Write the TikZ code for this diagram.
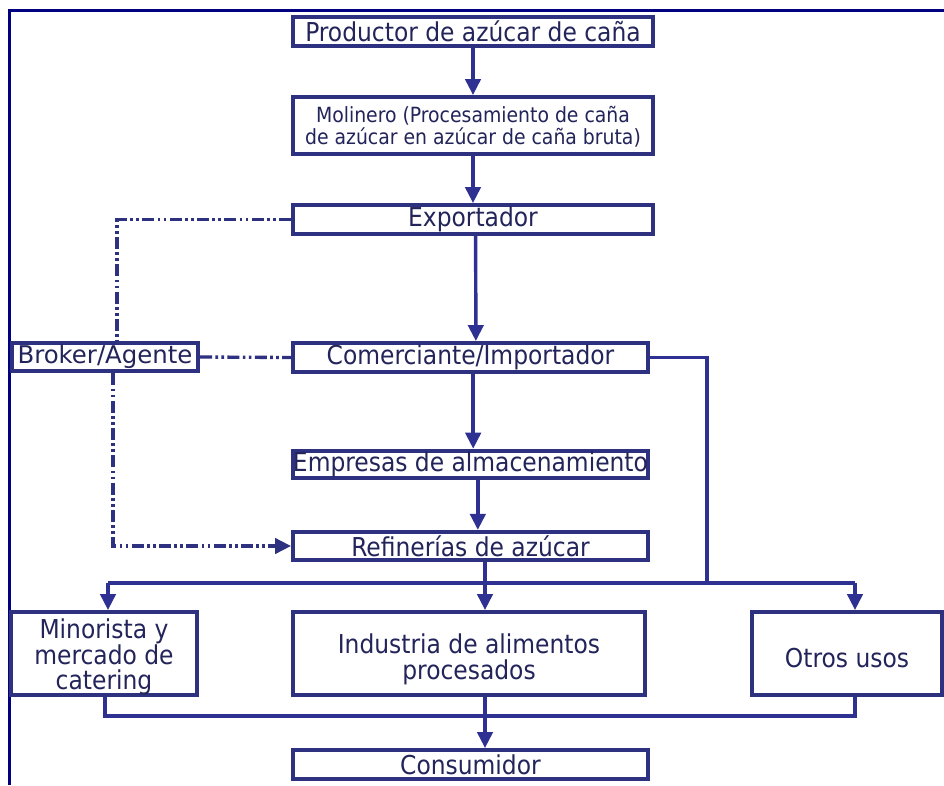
\documentclass[tikz,border=0pt]{standalone}
\usepackage{fontspec}
\setmainfont{DejaVu Sans Condensed}
\newfontfamily\widefont{DejaVu Sans}
\usetikzlibrary{arrows.meta}
\definecolor{framec}{HTML}{000080}
\definecolor{boxc}{HTML}{2E3080}
\definecolor{linec}{HTML}{2E3192}
\definecolor{txtc}{HTML}{22245A}
\tikzset{
  stagebox/.style={draw=boxc, line width=3.2pt, text=txtc, inner sep=0pt, align=center,
    font=\fontsize{19.5}{18.5}\selectfont},
  conn/.style={draw=linec, line width=2.6pt},
  arr/.style={conn, -{Triangle[length=12pt,width=11.5pt]}},
  dd/.style={draw=boxc, line width=2.5pt,
    dash pattern=on 9pt off 2.5pt on 2pt off 2.5pt on 2pt off 2.5pt},
}
\begin{document}
\begin{tikzpicture}[x=0.75pt,y=-0.75pt]
\useasboundingbox (0,0) rectangle (944,785);
\fill[white] (0,0) rectangle (944,785);
\draw[framec, line width=2.5pt] (9.5,785) -- (9.5,10.5) -- (944,10.5);

% nodes
\node[stagebox, minimum width=270pt, minimum height=21.5pt] (prod) at (473,31.5) {Productor de azúcar de caña};
\node[stagebox, minimum width=270pt, minimum height=42.5pt, font=\fontsize{15.7}{16.5}\selectfont] (mol) at (473,125.5) {\rule{0pt}{14pt}Molinero (Procesamiento de caña\\de azúcar en azúcar de caña bruta)};
\node[stagebox, minimum width=270pt, minimum height=21.5pt] (exp) at (473,219.5) {Exportador};
\node[stagebox, minimum width=266pt, minimum height=21.5pt] (com) at (470.5,357.5) {Comerciante/Importador};
\node[stagebox, minimum width=139.5pt, minimum height=21.5pt, font=\widefont\fontsize{18.3}{18}\selectfont] (broker) at (105,357) {Broker/Agente};
\node[stagebox, minimum width=266pt, minimum height=20.5pt] (emp) at (470.5,464.5) {Empresas de almacenamiento};
\node[stagebox, minimum width=266pt, minimum height=21pt] (ref) at (470.5,546) {Refinerías de azúcar};
\node[stagebox, minimum width=139.5pt, minimum height=62pt] (mino) at (104,653.5) {\rule{0pt}{19.5pt}Minorista y\\mercado de\\catering};
\node[stagebox, minimum width=264pt, minimum height=62pt, font=\fontsize{19.5}{19}\selectfont] (ind) at (469,653.5) {\rule{0pt}{23.5pt}Industria de alimentos\\procesados};
\node[stagebox, minimum width=143pt, minimum height=62pt] (otros) at (847,653.5) {\rule{0pt}{21pt}Otros usos};
\node[stagebox, minimum width=266pt, minimum height=21.5pt] (cons) at (470.5,764.5) {Consumidor};

% helper coordinates
\coordinate (sL) at (108,583);
\coordinate (sM) at (485,583);
\coordinate (sR) at (855,583);
\coordinate (cR) at (707,583);
\coordinate (bL) at (105,716);
\coordinate (bM) at (485,716);
\coordinate (bR) at (855,716);
\coordinate (dA) at (117,220);
\coordinate (dB) at (113,546);

% main chain
\draw[arr] (prod.south) -- (mol.north);
\draw[arr] (mol.south) -- (exp.north);
\draw[arr] ([xshift=2pt]exp.south) -- ([xshift=4pt]com.north);
\draw[arr] ([xshift=2pt]com.south) -- ([xshift=2pt]emp.north);
\draw[arr] ([xshift=5.5pt]emp.south) -- ([xshift=5.5pt]ref.north);

% distribution
\draw[conn] (ref.south -| sM) -- (sM);
\draw[conn] (com.east) -| (cR);
\draw[conn] (sL) -- (sR);
\draw[arr] (sL) -- (sL |- mino.north);
\draw[arr] (sM) -- (sM |- ind.north);
\draw[arr] (sR) -- (sR |- otros.north);

% to consumer
\draw[conn] (mino.south -| bL) -- (bL) -- (bR) -- (otros.south -| bR);
\draw[conn] (ind.south -| bM) -- (bM);
\draw[arr] (bM) -- (bM |- cons.north);

% broker dash-dot links
\draw[dd] (exp.west) -- (exp.west -| dA) -- (dA |- broker.north);
\draw[dd] (broker.east) -- (com.west);
\draw[dd, -{Triangle[length=12pt,width=11.5pt]}] (broker.south -| dB) -- (dB) -- (ref.west);
\end{tikzpicture}
\end{document}
